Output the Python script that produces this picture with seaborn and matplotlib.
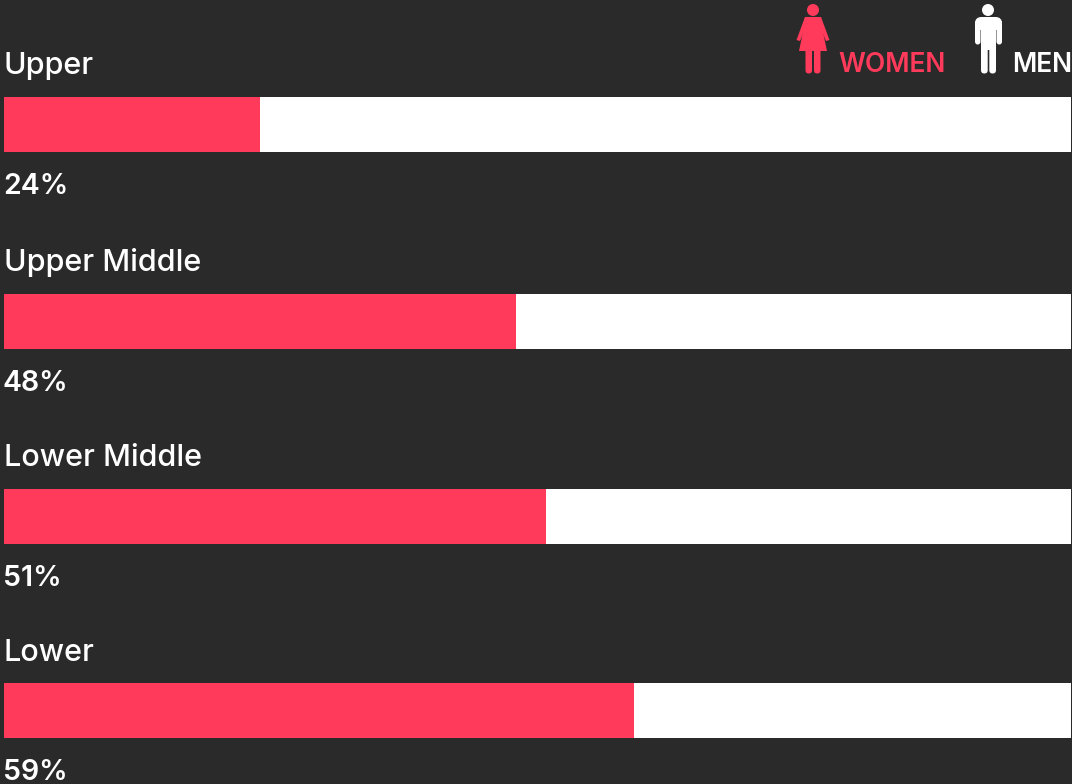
import matplotlib
matplotlib.use('Agg')
import matplotlib.pyplot as plt
from matplotlib.patches import Circle, Polygon, FancyBboxPatch
import seaborn as sns

# Values
categories = ['Upper', 'Upper Middle', 'Lower Middle', 'Lower']
women_share = [24, 48, 50.8, 59]
total_share = [100, 100, 100, 100]

BG = '#2a2a2a'
RED = '#ff3a5a'
WHITE = '#ffffff'
W, H = 1072, 784

sns.set_style('white')
plt.rcParams['font.family'] = ['Inter', 'DejaVu Sans']

fig = plt.figure(figsize=(W / 100, H / 100), dpi=100, facecolor=BG)

# Overlay in pixel units for the labels and the icons
overlay = fig.add_axes([0, 0, 1, 1], zorder=5)
overlay.set_xlim(0, W)
overlay.set_ylim(H, 0)
overlay.axis('off')

# Top edge of every bar and baseline of its label, in pixels
row_tops = [97, 294, 489, 683]
label_baselines = [74, 271, 466, 661]

for cat, share, total, top, base in zip(categories, women_share, total_share, row_tops, label_baselines):
    ax = fig.add_axes([4 / W, 1 - (top + 55) / H, 1067 / W, 55 / H])
    # no antialiasing, otherwise the white bar shows round the red one
    sns.barplot(x=[total], y=[cat], color=WHITE, saturation=1, width=1, linewidth=0, antialiased=False, ax=ax)
    sns.barplot(x=[share], y=[cat], color=RED, saturation=1, width=1, linewidth=0, antialiased=False, ax=ax)
    ax.set_xlim(0, 100)
    ax.axis('off')
    overlay.text(4, base, cat, color=WHITE, fontsize=22, fontweight='medium', va='baseline')
    overlay.text(3, top + 97, f'{round(share)}%', color=WHITE, fontsize=20.5, fontweight='semibold', va='baseline')


def rounded(x0, y0, x1, y1, color):
    r = min(x1 - x0, y1 - y0) / 2
    overlay.add_patch(FancyBboxPatch((x0 + r, y0 + r), x1 - x0 - 2 * r, y1 - y0 - 2 * r,
                                     boxstyle=f'round,pad={r}', fc=color, ec='none'))


# Woman icon
overlay.add_patch(Circle((813, 10), 6, fc=RED, ec='none'))
overlay.add_patch(Polygon([(805, 17), (821, 17), (823, 32), (827, 51), (799, 51), (803, 32)], fc=RED, ec='none'))
overlay.add_patch(Polygon([(805, 17), (808, 22), (800, 41), (796.5, 40)], fc=RED, ec='none'))
overlay.add_patch(Polygon([(821, 17), (818, 22), (826, 41), (829.5, 40)], fc=RED, ec='none'))
rounded(805.5, 48, 812, 73.5, RED)
rounded(814, 48, 820.5, 73.5, RED)

# Man icon
overlay.add_patch(Circle((988, 10), 6, fc=WHITE, ec='none'))
rounded(975, 17, 1002, 30, WHITE)
rounded(975, 20, 980.5, 44.5, WHITE)
rounded(996.5, 20, 1002, 44.5, WHITE)
overlay.add_patch(Polygon([(981, 17), (996, 17), (996, 50), (981, 50)], fc=WHITE, ec='none'))
rounded(981, 40, 987.7, 73.5, WHITE)
rounded(989.3, 40, 996, 73.5, WHITE)

overlay.text(838, 72, 'WOMEN', color=RED, fontsize=19, fontweight='semibold', va='baseline')
overlay.text(1072, 72, 'MEN', color=WHITE, fontsize=19, fontweight='semibold', va='baseline', ha='right')

fig.savefig('out.png', dpi=100, facecolor=BG)
